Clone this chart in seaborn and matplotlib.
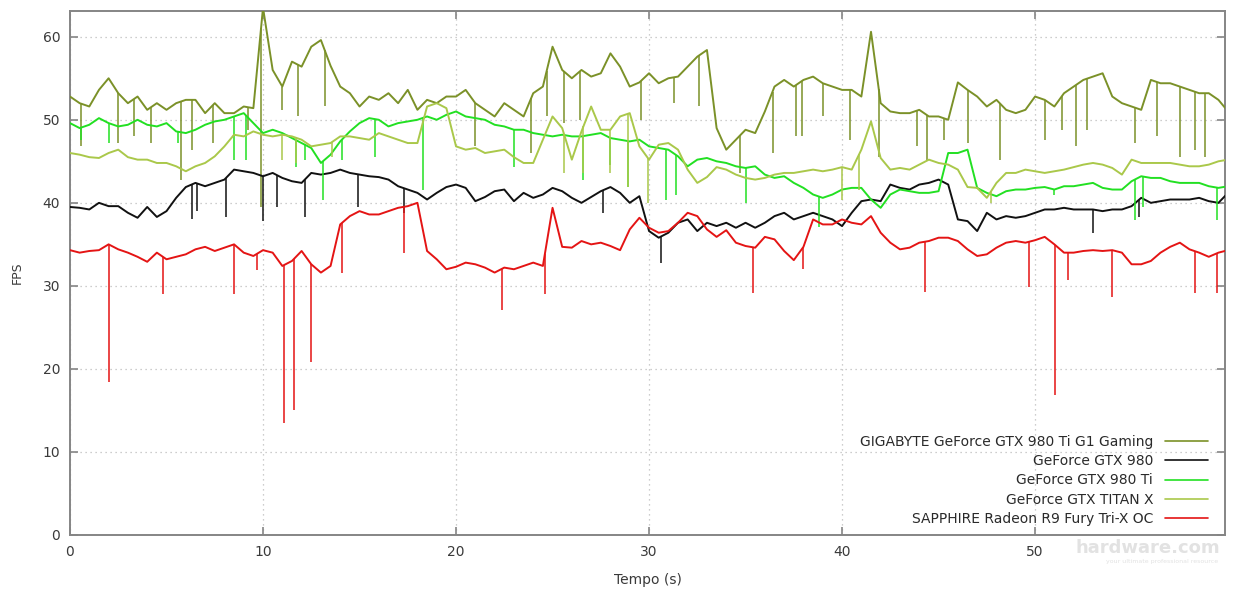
import numpy as np
import pandas as pd
import matplotlib
matplotlib.use("Agg")
import matplotlib.pyplot as plt
from matplotlib.lines import Line2D
import seaborn as sns

# Frame-rate traces sampled every 0.5 s (seconds, FPS)
time_s = np.arange(0, 60.01, 0.5)

cards = [
    "GIGABYTE GeForce GTX 980 Ti G1 Gaming",
    "GeForce GTX 980",
    "GeForce GTX 980 Ti",
    "GeForce GTX TITAN X",
    "SAPPHIRE Radeon R9 Fury Tri-X OC",
]
card_colors = ["#7b9128", "#111111", "#22e022", "#aac84a", "#e41414"]

fps_g1 = [
    52.8, 52.0, 51.6, 53.6, 55.0, 53.2, 52.0, 52.8, 51.2, 52.0,
    51.2, 52.0, 52.4, 52.4, 50.8, 52.0, 50.8, 50.8, 51.6, 51.4,
    63.5, 56.0, 54.0, 57.0, 56.4, 58.8, 59.6, 56.5, 54.0, 53.2,
    51.6, 52.8, 52.4, 53.2, 52.0, 53.6, 51.2, 52.4, 52.0, 52.8,
    52.8, 53.6, 52.0, 51.2, 50.4, 52.0, 51.2, 50.4, 53.2, 54.0,
    58.8, 56.0, 55.0, 56.0, 55.2, 55.6, 58.0, 56.4, 54.0, 54.5,
    55.6, 54.4, 55.0, 55.2, 56.4, 57.6, 58.4, 49.0, 46.4, 47.6,
    48.8, 48.4, 51.0, 54.0, 54.8, 54.0, 54.8, 55.2, 54.4, 54.0,
    53.6, 53.6, 52.8, 60.6, 52.0, 51.0, 50.8, 50.8, 51.2, 50.4,
    50.4, 50.0, 54.5, 53.6, 52.8, 51.6, 52.4, 51.2, 50.8, 51.2,
    52.8, 52.4, 51.6, 53.2, 54.0, 54.8, 55.2, 55.6, 52.8, 52.0,
    51.6, 51.2, 54.8, 54.4, 54.4, 54.0, 53.6, 53.2, 53.2, 52.4,
    51.0,
]
fps_980 = [
    39.5, 39.4, 39.2, 40.0, 39.6, 39.6, 38.8, 38.2, 39.5, 38.3,
    39.0, 40.6, 41.9, 42.4, 42.0, 42.4, 42.8, 44.0, 43.8, 43.6,
    43.2, 43.6, 43.0, 42.6, 42.4, 43.6, 43.4, 43.6, 44.0, 43.6,
    43.4, 43.2, 43.1, 42.8, 42.0, 41.6, 41.2, 40.4, 41.2, 41.9,
    42.2, 41.8, 40.2, 40.7, 41.4, 41.6, 40.2, 41.2, 40.6, 41.0,
    41.8, 41.4, 40.6, 40.0, 40.7, 41.4, 41.9, 41.2, 40.0, 40.8,
    36.6, 35.8, 36.4, 37.6, 38.0, 36.6, 37.6, 37.2, 37.6, 37.0,
    37.6, 37.0, 37.6, 38.4, 38.8, 38.0, 38.4, 38.8, 38.4, 38.0,
    37.2, 38.8, 40.2, 40.4, 40.2, 42.2, 41.8, 41.6, 42.2, 42.4,
    42.8, 42.2, 38.0, 37.8, 36.6, 38.8, 38.0, 38.4, 38.2, 38.4,
    38.8, 39.2, 39.2, 39.4, 39.2, 39.2, 39.2, 39.0, 39.2, 39.2,
    39.6, 40.6, 40.0, 40.2, 40.4, 40.4, 40.4, 40.6, 40.2, 40.0,
    41.2,
]
fps_980ti = [
    49.6, 49.0, 49.4, 50.2, 49.6, 49.2, 49.4, 50.0, 49.4, 49.2,
    49.6, 48.6, 48.4, 48.8, 49.4, 49.8, 50.0, 50.4, 50.8, 49.6,
    48.4, 48.8, 48.4, 47.8, 47.2, 46.6, 44.8, 45.8, 47.4, 48.6,
    49.6, 50.2, 50.0, 49.2, 49.6, 49.8, 50.0, 50.4, 50.0, 50.6,
    51.0, 50.4, 50.2, 50.0, 49.4, 49.2, 48.8, 48.8, 48.4, 48.2,
    48.0, 48.2, 48.0, 48.0, 48.2, 48.4, 47.8, 47.6, 47.4, 47.6,
    46.8, 46.6, 46.4, 45.6, 44.4, 45.2, 45.4, 45.0, 44.8, 44.4,
    44.2, 44.4, 43.4, 43.0, 43.2, 42.4, 41.8, 41.0, 40.6, 41.0,
    41.6, 41.8, 41.8, 40.4, 39.4, 41.0, 41.6, 41.4, 41.2, 41.2,
    41.4, 46.0, 46.0, 46.4, 41.8, 41.2, 40.8, 41.4, 41.6, 41.6,
    41.8, 41.9, 41.6, 42.0, 42.0, 42.2, 42.4, 41.8, 41.6, 41.6,
    42.6, 43.2, 43.0, 43.0, 42.6, 42.4, 42.4, 42.4, 42.0, 41.8,
    42.0,
]
fps_titan = [
    46.0, 45.8, 45.5, 45.4, 46.0, 46.4, 45.5, 45.2, 45.2, 44.8,
    44.8, 44.4, 43.8, 44.4, 44.8, 45.6, 46.8, 48.2, 48.0, 48.6,
    48.2, 48.0, 48.2, 48.0, 47.6, 46.8, 47.0, 47.2, 48.0, 48.0,
    47.8, 47.6, 48.4, 48.0, 47.6, 47.2, 47.2, 51.6, 52.0, 51.4,
    46.8, 46.4, 46.6, 46.0, 46.2, 46.4, 45.5, 44.8, 44.8, 47.6,
    50.4, 49.0, 45.2, 48.6, 51.6, 48.8, 48.8, 50.4, 50.8, 46.8,
    45.2, 47.0, 47.2, 46.4, 44.0, 42.4, 43.1, 44.3, 44.0, 43.4,
    43.0, 42.8, 43.0, 43.4, 43.6, 43.6, 43.8, 44.0, 43.8, 44.0,
    44.3, 44.0, 46.4, 49.8, 45.4, 44.0, 44.2, 44.0, 44.6, 45.2,
    44.8, 44.6, 44.0, 41.9, 41.8, 40.6, 42.4, 43.6, 43.6, 44.0,
    43.8, 43.6, 43.8, 44.0, 44.3, 44.6, 44.8, 44.6, 44.2, 43.4,
    45.2, 44.8, 44.8, 44.8, 44.8, 44.6, 44.4, 44.4, 44.6, 45.0,
    45.2,
]
fps_fury = [
    34.3, 34.0, 34.2, 34.3, 35.0, 34.4, 34.0, 33.5, 32.9, 34.0,
    33.2, 33.5, 33.8, 34.4, 34.7, 34.2, 34.6, 35.0, 34.0, 33.6,
    34.3, 34.0, 32.4, 33.0, 34.2, 32.6, 31.6, 32.4, 37.4, 38.4,
    39.0, 38.6, 38.6, 39.0, 39.4, 39.6, 40.0, 34.2, 33.2, 32.0,
    32.3, 32.8, 32.6, 32.2, 31.6, 32.2, 32.0, 32.4, 32.8, 32.4,
    39.4, 34.7, 34.6, 35.4, 35.0, 35.2, 34.8, 34.3, 36.8, 38.2,
    37.0, 36.4, 36.6, 37.6, 38.8, 38.4, 36.8, 35.9, 36.7, 35.2,
    34.8, 34.6, 35.9, 35.6, 34.2, 33.1, 34.7, 38.0, 37.4, 37.4,
    38.0, 37.6, 37.4, 38.4, 36.4, 35.2, 34.4, 34.6, 35.2, 35.4,
    35.8, 35.8, 35.4, 34.4, 33.6, 33.8, 34.6, 35.2, 35.4, 35.2,
    35.5, 35.9, 35.0, 34.0, 34.0, 34.2, 34.3, 34.2, 34.3, 34.0,
    32.6, 32.6, 33.0, 34.0, 34.7, 35.2, 34.4, 34.0, 33.5, 34.0,
    34.3,
]

# Single-frame stutters: time (s) and the FPS the frame dropped to
g1_dip_t = [0.57, 2.5, 3.3, 4.2, 5.75, 6.3, 7.4, 9.2, 9.9, 11.0, 11.8, 13.2,
            21.0, 23.9, 24.7, 25.6, 26.4, 29.6, 31.3, 32.6, 34.7, 36.4,
            37.6, 37.9, 39.0, 40.4, 41.9, 43.9, 44.4, 45.3, 46.5, 48.2,
            50.5, 51.4, 52.1, 52.7, 55.2, 56.3, 57.5, 58.3, 58.8]
g1_dip_fps = [46.8, 47.2, 48.0, 47.2, 42.8, 46.4, 47.2, 48.8, 39.5, 51.2, 50.4, 51.6,
              46.8, 46.0, 50.4, 49.6, 50.0, 50.0, 52.0, 51.6, 43.6, 46.0,
              48.0, 48.0, 50.4, 47.6, 45.5, 46.8, 45.2, 47.6, 47.2, 45.2,
              47.6, 48.8, 46.8, 48.8, 47.2, 48.0, 45.5, 46.4, 45.5]
gtx980_dip_t = [6.3, 6.6, 8.1, 10.0, 10.7, 12.2, 14.9, 17.3, 27.6, 30.6, 53.0, 55.4]
gtx980_dip_fps = [38.0, 39.0, 38.3, 37.8, 39.5, 38.3, 39.5, 38.8, 38.8, 32.8, 36.4, 38.3]
ti_dip_t = [0.55, 2.0, 5.6, 8.5, 9.1, 11.7, 12.2, 13.1, 14.1, 15.8, 18.3, 23.0,
            26.6, 28.0, 28.9, 30.9, 31.4, 35.0, 38.8, 51.0, 55.2, 55.6, 59.4]
ti_dip_fps = [47.6, 47.2, 47.2, 45.2, 45.2, 44.3, 45.2, 40.4, 45.2, 45.5, 41.6, 44.3,
              42.8, 44.5, 41.9, 40.4, 41.0, 40.0, 37.1, 41.0, 37.9, 39.5, 37.9]
titan_dip_t = [11.0, 11.7, 13.6, 25.6, 26.6, 28.0, 28.9, 29.95, 40.0, 40.9, 47.7]
titan_dip_fps = [45.2, 44.8, 45.5, 43.6, 43.6, 43.6, 41.9, 40.0, 40.4, 41.6, 40.0]
fury_dip_t = [2.0, 4.8, 8.5, 9.7, 11.1, 11.6, 12.5, 14.1, 17.3, 22.4, 24.6,
              35.4, 38.0, 44.3, 49.7, 51.05, 51.7, 54.0, 58.3, 59.4]
fury_dip_fps = [18.4, 29.0, 29.0, 31.9, 13.5, 15.0, 20.8, 31.6, 34.0, 27.1, 29.0,
                29.2, 32.0, 29.3, 29.9, 16.9, 30.7, 28.7, 29.2, 29.2]

series = [fps_g1, fps_980, fps_980ti, fps_titan, fps_fury]
dips = [(g1_dip_t, g1_dip_fps), (gtx980_dip_t, gtx980_dip_fps),
        (ti_dip_t, ti_dip_fps), (titan_dip_t, titan_dip_fps),
        (fury_dip_t, fury_dip_fps)]

sns.set_theme(style="white")
plt.rcParams["font.family"] = ["DejaVu Sans"]

W, H = 1245, 589
fig = plt.figure(figsize=(W / 100, H / 100), dpi=100)
ax = fig.add_axes([70 / W, 54 / H, 1155 / W, 524 / H])

frame = pd.concat(
    [pd.DataFrame({"Tempo (s)": time_s, "FPS": vals, "card": name})
     for name, vals in zip(cards, series)],
    ignore_index=True,
)

for i, (name, color) in enumerate(zip(cards, card_colors)):
    sub = frame[frame["card"] == name]
    sns.lineplot(data=sub, x="Tempo (s)", y="FPS", color=color, lw=1.4,
                 estimator=None, sort=False, ax=ax, zorder=3 + i, legend=False)
    dt, dv = dips[i]
    base = np.interp(dt, sub["Tempo (s)"], sub["FPS"])
    ax.vlines(dt, dv, base, color=color, lw=1.1, zorder=3 + i)

border = "#858585"
ax.set_xlim(0, 59.84)
ax.set_ylim(0, 63.1)
ax.set_xticks(range(0, 51, 10))
ax.set_yticks(range(0, 61, 10))
for s in ax.spines.values():
    s.set_color(border)
    s.set_linewidth(1.4)
    s.set_visible(True)
ax.tick_params(axis="both", which="both", direction="in", length=6, width=1.2,
               color=border, labelsize=10, labelcolor="#3a3a3a",
               top=True, right=True, bottom=True, left=True, pad=7)
ax.grid(True, color="#bdbdbd", linestyle=(0, (1, 3)), linewidth=0.9)
ax.set_axisbelow(True)

ax.set_xlabel("Tempo (s)", fontsize=10, color="#3a3a3a")
ax.xaxis.set_label_coords(0.5, -0.072)
ax.set_ylabel("FPS", fontsize=9, color="#3a3a3a")
ax.yaxis.set_label_coords(-0.04, 0.5)

handles = [Line2D([], [], color=c, lw=1.2) for c in card_colors]
ax.legend(handles, cards, loc="lower right", bbox_to_anchor=(1 - 17 / 1155, 9 / 524),
          borderaxespad=0, borderpad=0, frameon=False, markerfirst=False,
          fontsize=10, handlelength=3.1, handletextpad=0.85, labelspacing=0.38,
          labelcolor="#2a2a2a")

# site watermark
fig.text(1148 / W, 1 - 548 / H, "hardware.com", fontsize=13, color="#e2e2e2",
         ha="center", va="center", fontweight="bold")
fig.text(1162 / W, 1 - 562 / H, "your ultimate professional resource", fontsize=4.5,
         color="#e2e2e2", ha="center", va="center")

fig.savefig("out.png", dpi=100)
